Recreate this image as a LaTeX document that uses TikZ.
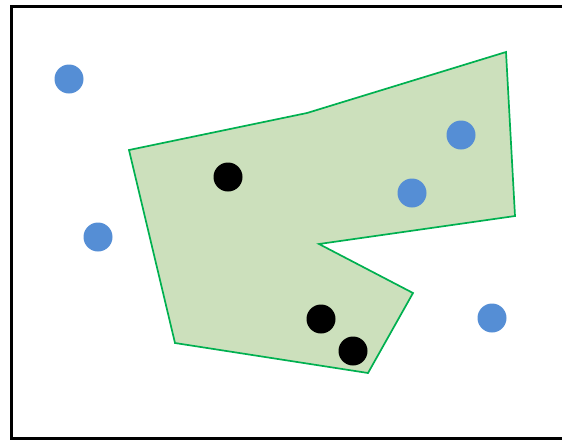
\documentclass[tikz,border=0pt]{standalone}
\begin{document}
\begin{tikzpicture}[x=1pt,y=-1pt,
  bluedot/.style={circle,fill=bluec,inner sep=0pt,minimum size=29pt},
  blackdot/.style={circle,fill=black,inner sep=0pt,minimum size=29pt},
  region/.style={draw=greenline,fill=greenfill,line width=1.7pt,line join=miter}]
\definecolor{bluec}{HTML}{558ED5}
\definecolor{greenline}{HTML}{00B050}
\definecolor{greenfill}{HTML}{CCE0BC}
\useasboundingbox (0,0) rectangle (562,440);
\begin{scope}
\clip (0,0) rectangle (562,440);
\draw[line width=3pt] (11.5,6.5) rectangle (570,438);
\end{scope}
\draw[region] (129,150) -- (307,113) -- (506,52) -- (515,216) -- (319,244) -- (413,293) -- (368,373) -- (175,343) -- cycle;
\node[bluedot] (b1) at (69,79) {};
\node[bluedot] (b2) at (461,135) {};
\node[bluedot] (b3) at (412,193) {};
\node[bluedot] (b4) at (98,237) {};
\node[bluedot] (b5) at (492,318) {};
\node[blackdot] (k1) at (228,177) {};
\node[blackdot] (k2) at (321,319) {};
\node[blackdot] (k3) at (353,351) {};
\end{tikzpicture}
\end{document}
